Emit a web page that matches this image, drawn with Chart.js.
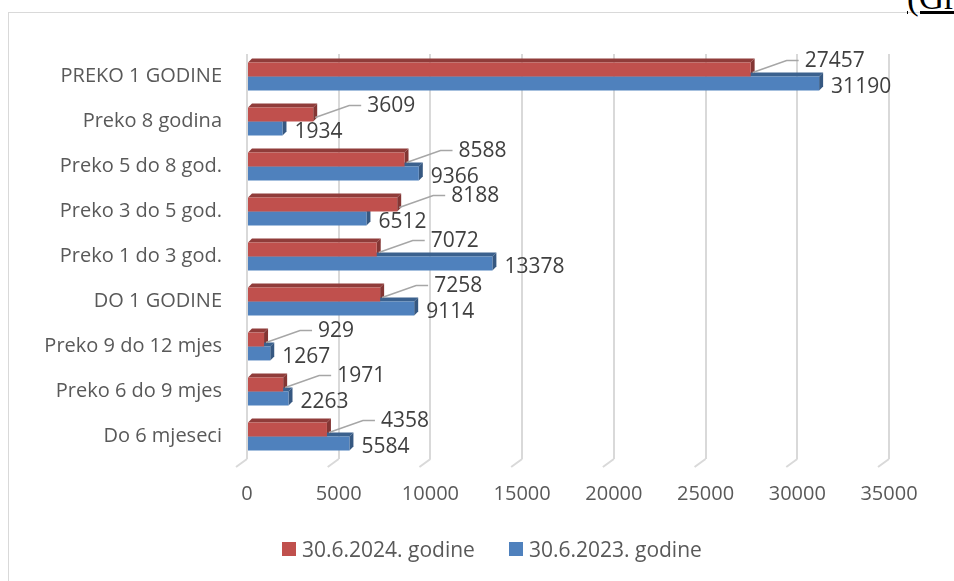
<!DOCTYPE html>
<html lang="hr">
<head>
  <meta charset="UTF-8" />
  <title>Nezaposleni prema trajanju nezaposlenosti</title>
  <script src="https://cdn.jsdelivr.net/npm/chart.js"></script>
  <style>
    html, body {
      margin: 0;
      width: 954px;
      height: 581px;
      overflow: hidden;
      background: #fff;
    }
    /* frame of the chart object, only top and left edges are visible */
    .frame {
      position: absolute;
      left: 8px;
      top: 12px;
      width: 960px;
      height: 600px;
      border-top: 1px solid #d9d9d9;
      border-left: 1px solid #d9d9d9;
    }
    .doc-text {
      position: absolute;
      left: 907px;
      top: -22px;
      font: 35px 'Liberation Serif', serif;
      color: #000;
      text-decoration: underline;
      white-space: nowrap;
    }
    .chart-box {
      position: absolute;
      left: 0;
      top: 0;
      width: 954px;
      height: 581px;
    }
    .legend {
      position: absolute;
      top: 535px;
      left: 282px;
      display: flex;
      align-items: center;
      font: 21px 'Open Sans', sans-serif;
      color: #595959;
      white-space: nowrap;
    }
    .legend span.box {
      display: inline-block;
      width: 14px;
      height: 14px;
      margin-right: 6px;
    }
    .legend .item {
      display: flex;
      align-items: center;
      margin-right: 34px;
    }
  </style>
</head>
<body>
  <div class="frame"></div>
  <div class="doc-text">(Grafikon)</div>
  <div class="chart-box">
    <canvas id="durationChart"></canvas>
  </div>
  <div class="legend" id="legend"></div>

  <script>
    // categories, top to bottom
    const categories = [
      'PREKO 1 GODINE',
      'Preko 8 godina',
      'Preko 5 do 8 god.',
      'Preko 3 do 5 god.',
      'Preko 1 do 3 god.',
      'DO 1 GODINE',
      'Preko 9 do 12 mjes',
      'Preko 6 do 9 mjes',
      'Do 6 mjeseci'
    ];
    const values2024 = [27457, 3609, 8588, 8188, 7072, 7258, 929, 1971, 4358];
    const values2023 = [31190, 1934, 9366, 6512, 13378, 9114, 1267, 2263, 5584];
    const seriesNames = ['30.6.2024. godine', '30.6.2023. godine'];
    const seriesColors = ['#c0504d', '#4f81bd'];
    const xMax = 35000;
    const xStep = 5000;

    const FONT = "'Open Sans', sans-serif";
    const DEPTH = 4;

    function shade(hex, f) {
      const n = parseInt(hex.slice(1), 16);
      const r = Math.round(((n >> 16) & 255) * f);
      const g = Math.round(((n >> 8) & 255) * f);
      const b = Math.round((n & 255) * f);
      return 'rgb(' + r + ',' + g + ',' + b + ')';
    }

    // fake 3D: top and right faces drawn behind the bars,
    // plus the little slanted floor ticks under each grid line
    const depthPlugin = {
      id: 'depth',
      beforeDatasetsDraw(chart) {
        const ctx = chart.ctx;
        const xs = chart.scales.x;
        const area = chart.chartArea;
        ctx.save();
        ctx.strokeStyle = '#d9d9d9';
        ctx.lineWidth = 2;
        xs.ticks.forEach(t => {
          const px = xs.getPixelForValue(t.value);
          ctx.beginPath();
          ctx.moveTo(px, area.bottom);
          ctx.lineTo(px - 11, area.bottom + 8);
          ctx.stroke();
        });
        chart.data.datasets.forEach((ds, i) => {
          const meta = chart.getDatasetMeta(i);
          meta.data.forEach(bar => {
            const top = bar.y - bar.height / 2;
            const bottom = bar.y + bar.height / 2;
            ctx.fillStyle = shade(ds.backgroundColor, 0.75);
            ctx.beginPath();
            ctx.moveTo(bar.base, top);
            ctx.lineTo(bar.base + DEPTH, top - DEPTH);
            ctx.lineTo(bar.x + DEPTH, top - DEPTH);
            ctx.lineTo(bar.x, top);
            ctx.closePath();
            ctx.fill();
            ctx.fillStyle = shade(ds.backgroundColor, 0.68);
            ctx.beginPath();
            ctx.moveTo(bar.x, top);
            ctx.lineTo(bar.x + DEPTH, top - DEPTH);
            ctx.lineTo(bar.x + DEPTH, bottom - DEPTH);
            ctx.lineTo(bar.x, bottom);
            ctx.closePath();
            ctx.fill();
          });
        });
        ctx.restore();
      }
    };

    // value labels: red ones pulled up-right with a leader line
    const labelPlugin = {
      id: 'valueLabels',
      afterDatasetsDraw(chart) {
        const ctx = chart.ctx;
        ctx.save();
        ctx.font = '21px ' + FONT;
        ctx.fillStyle = '#404040';
        ctx.textAlign = 'left';
        ctx.textBaseline = 'middle';
        const red = chart.getDatasetMeta(0);
        red.data.forEach((bar, j) => {
          const lx = bar.x + 54;
          const ly = bar.y - 9;
          ctx.strokeStyle = '#a6a6a6';
          ctx.lineWidth = 1.5;
          ctx.beginPath();
          ctx.moveTo(bar.x + 2, bar.y + 3);
          ctx.lineTo(lx - 18, ly);
          ctx.lineTo(lx - 6, ly);
          ctx.stroke();
          ctx.fillText(String(chart.data.datasets[0].data[j]), lx, ly);
        });
        const blue = chart.getDatasetMeta(1);
        blue.data.forEach((bar, j) => {
          ctx.fillText(String(chart.data.datasets[1].data[j]), bar.x + 12, bar.y + 4);
        });
        ctx.restore();
      }
    };

    const ctx = document.getElementById('durationChart').getContext('2d');
    const durationChart = new Chart(ctx, {
      type: 'bar',
      data: {
        labels: categories,
        datasets: seriesNames.map((name, i) => ({
          label: name,
          data: i === 0 ? values2024 : values2023,
          backgroundColor: seriesColors[i],
          borderWidth: 0,
          barPercentage: 1,
          categoryPercentage: 0.62
        }))
      },
      options: {
        indexAxis: 'y',
        responsive: true,
        maintainAspectRatio: false,
        animation: false,
        layout: {
          padding: { left: 0, right: 65, top: 54, bottom: 0 }
        },
        scales: {
          x: {
            min: 0,
            max: xMax,
            afterFit: s => { s.height = 122; },
            ticks: {
              stepSize: xStep,
              padding: 23,
              color: '#595959',
              font: { family: FONT, size: 20 },
              callback: v => String(v)
            },
            grid: {
              color: '#d9d9d9',
              lineWidth: 2,
              drawTicks: false
            },
            border: { display: false }
          },
          y: {
            afterFit: s => { s.width = 247; },
            ticks: {
              padding: 25,
              color: '#595959',
              font: { family: FONT, size: 20 }
            },
            grid: { display: false, drawTicks: false },
            border: { display: false }
          }
        },
        plugins: {
          legend: { display: false },
          tooltip: { enabled: false }
        }
      },
      plugins: [depthPlugin, labelPlugin]
    });

    // legend as plain html below the chart
    const legendEl = document.getElementById('legend');
    seriesNames.forEach((name, i) => {
      const item = document.createElement('div');
      item.className = 'item';
      const box = document.createElement('span');
      box.className = 'box';
      box.style.background = seriesColors[i];
      item.appendChild(box);
      item.appendChild(document.createTextNode(name));
      legendEl.appendChild(item);
    });
  </script>
</body>
</html>
